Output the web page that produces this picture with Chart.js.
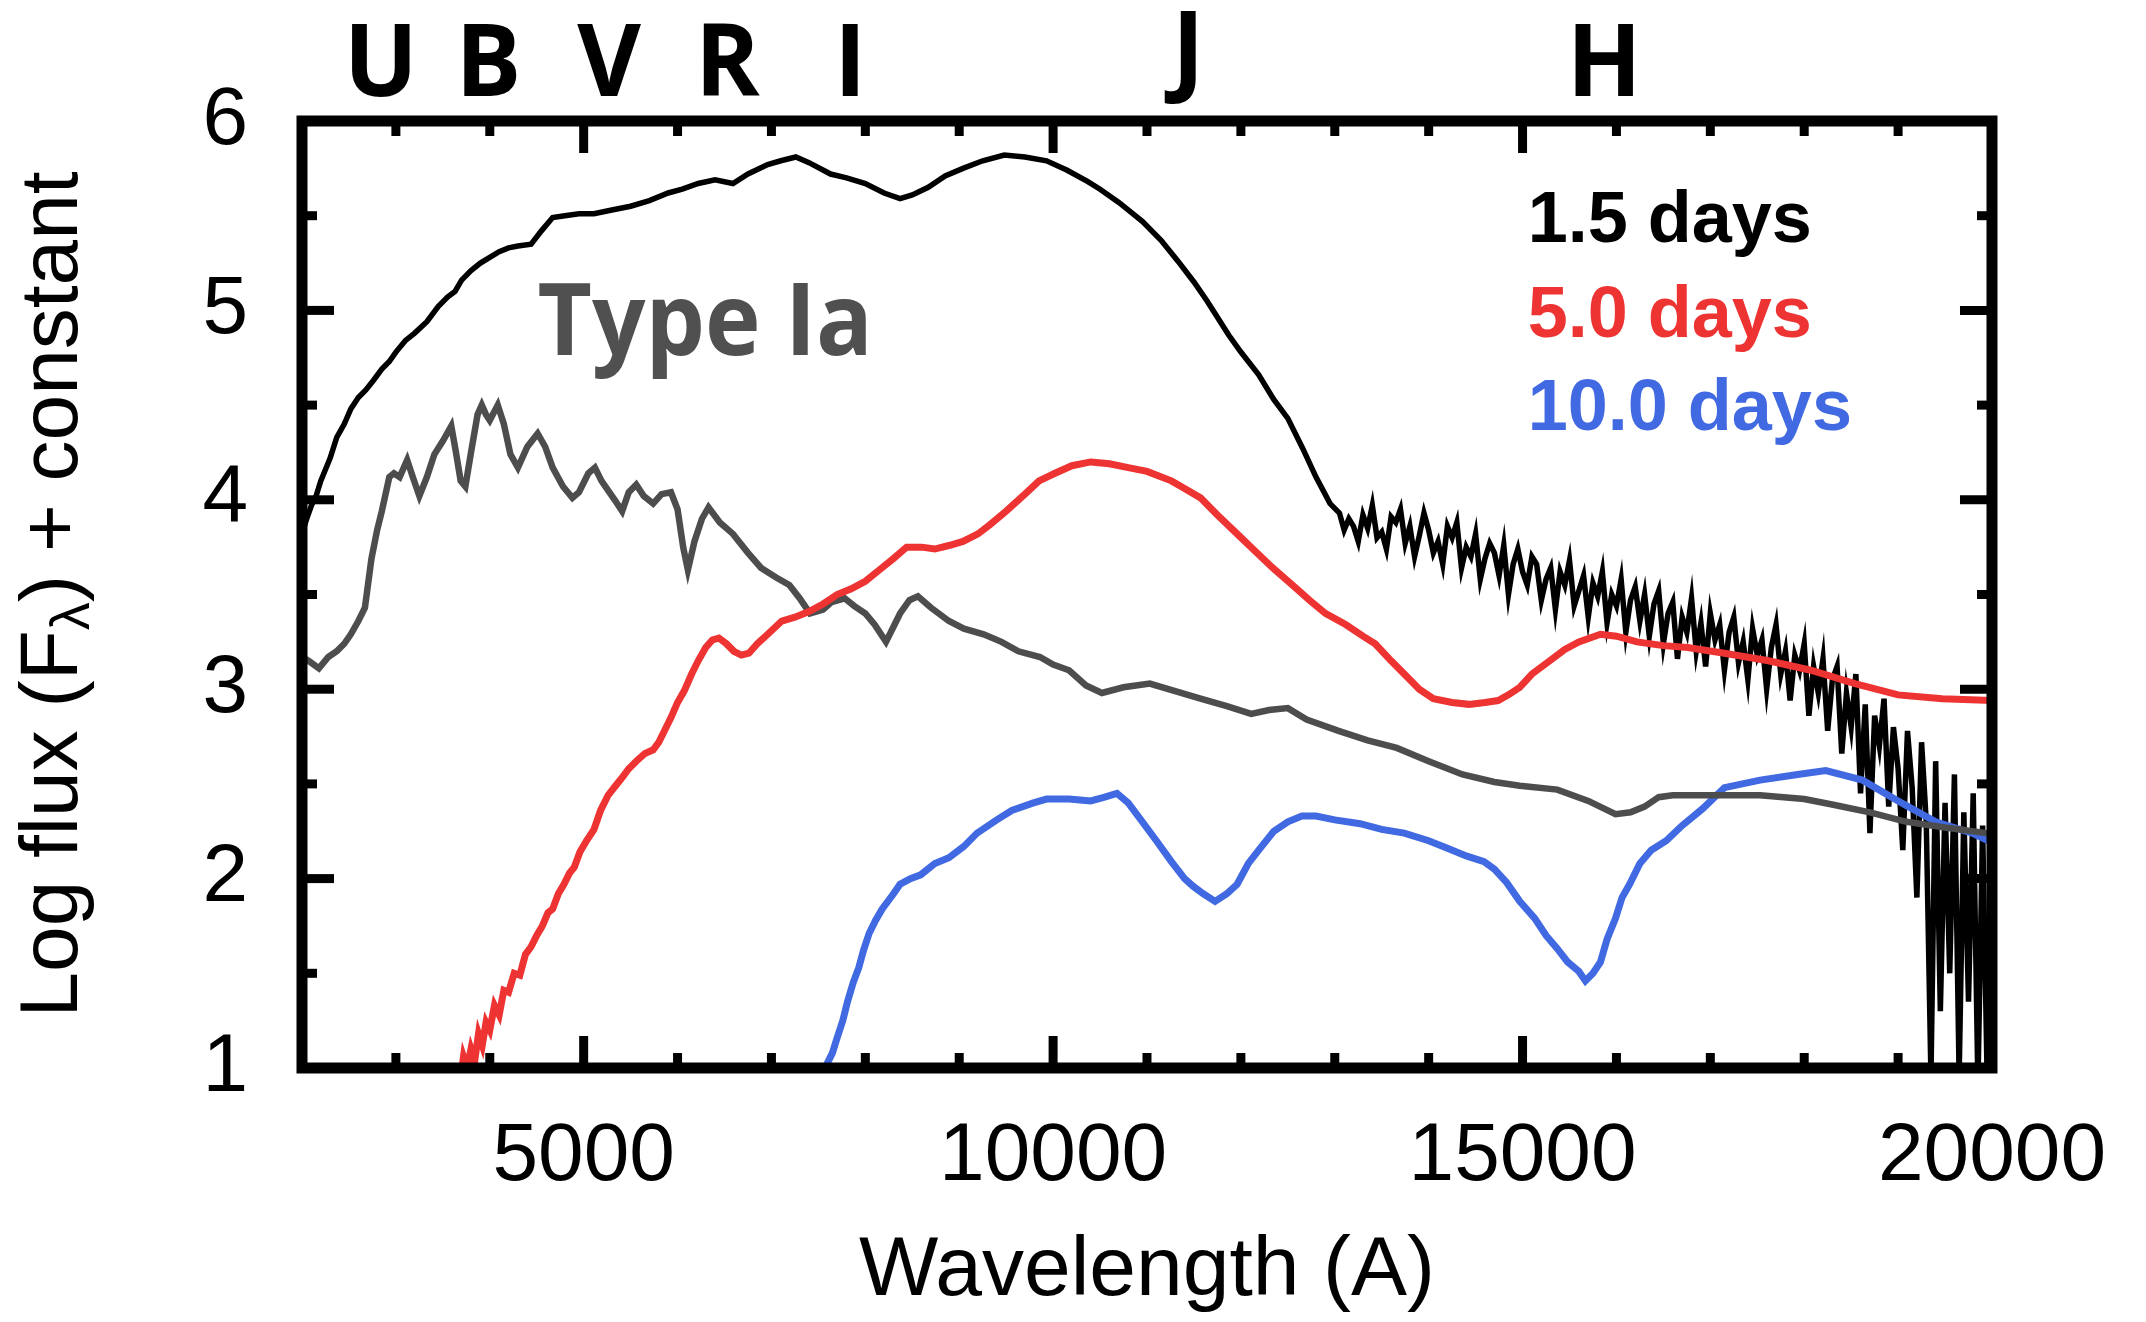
<!DOCTYPE html>
<html>
<head>
<meta charset="utf-8">
<script src="https://cdn.jsdelivr.net/npm/chart.js@4.4.1/dist/chart.umd.min.js"></script>
<style>
  html, body { margin: 0; padding: 0; background: #fff; }
  #wrap { width: 2146px; height: 1322px; }
</style>
</head>
<body>
<div id="wrap"><canvas id="spec" width="2146" height="1322"></canvas></div>
<script>
// ==================================================
// Spectra: log flux + constant vs wavelength (A)
// values, [wavelength, log flux]
// ==================================================

// 1.5 days (black)
const spec15 = [
  [2000,3.82],[2050,3.90],[2100,3.97],[2150,4.02],[2200,4.10],[2250,4.16],[2300,4.22],[2370,4.33],
  [2450,4.40],[2520,4.48],[2600,4.54],[2680,4.58],[2760,4.63],[2850,4.69],[2930,4.73],[3000,4.78],
  [3100,4.84],[3200,4.88],[3330,4.94],[3450,5.02],[3550,5.07],[3630,5.10],[3700,5.16],[3800,5.21],
  [3900,5.25],[4000,5.28],[4100,5.31],[4200,5.33],[4300,5.34],[4440,5.35],[4550,5.42],[4670,5.49],
  [4800,5.50],[4950,5.51],[5110,5.51],[5300,5.53],[5500,5.55],[5700,5.58],[5900,5.62],[6050,5.64],
  [6220,5.67],[6400,5.69],[6590,5.67],[6750,5.72],[6960,5.77],[7100,5.79],[7260,5.81],[7400,5.78],
  [7630,5.72],[7800,5.70],[8000,5.67],[8200,5.62],[8370,5.59],[8500,5.61],[8670,5.65],[8850,5.71],
  [9040,5.75],[9250,5.79],[9480,5.82],[9700,5.81],[9930,5.79],[10150,5.74],[10370,5.68],[10500,5.64],
  [10700,5.57],[10950,5.47],[11150,5.37],[11330,5.26],[11500,5.15],[11640,5.05],[11870,4.87],[12000,4.78],
  [12190,4.66],[12350,4.53],[12500,4.43],[12660,4.27],[12800,4.12],[12950,3.98],
  // noisy near-IR part
  [13050,3.93],[13100,3.84],[13150,3.90],[13200,3.86],[13250,3.78],[13300,3.92],[13350,3.85],[13400,3.97],
  [13450,3.80],[13500,3.83],[13550,3.74],[13600,3.91],[13650,3.88],[13700,3.95],[13750,3.77],[13800,3.86],
  [13850,3.70],[13900,3.81],[13950,3.93],[14000,3.84],[14050,3.72],[14100,3.78],[14150,3.66],[14200,3.86],
  [14250,3.80],[14300,3.88],[14350,3.64],[14400,3.75],[14450,3.70],[14500,3.82],[14550,3.58],[14600,3.69],
  [14650,3.77],[14700,3.72],[14750,3.60],[14800,3.76],[14850,3.50],[14900,3.66],[14950,3.74],[15000,3.62],
  [15050,3.55],[15100,3.70],[15150,3.66],[15200,3.47],[15250,3.58],[15300,3.64],[15350,3.42],[15400,3.62],
  [15450,3.55],[15500,3.68],[15550,3.44],[15600,3.52],[15650,3.60],[15700,3.38],[15750,3.56],[15800,3.49],
  [15850,3.62],[15900,3.35],[15950,3.50],[16000,3.44],[16050,3.58],[16100,3.30],[16150,3.47],[16200,3.54],
  [16250,3.36],[16300,3.50],[16350,3.28],[16400,3.45],[16450,3.52],[16500,3.24],[16550,3.40],[16600,3.46],
  [16650,3.16],[16700,3.38],[16750,3.30],[16800,3.48],[16850,3.20],[16900,3.35],[16950,3.12],[17000,3.40],
  [17050,3.26],[17100,3.34],[17150,3.10],[17200,3.30],[17250,3.38],[17300,3.14],[17350,3.25],[17400,3.05],
  [17450,3.32],[17500,3.18],[17550,3.26],[17600,3.00],[17650,3.22],[17700,3.34],[17750,3.08],[17800,3.20],
  [17850,2.94],[17900,3.18],[17950,3.10],[18000,3.24],[18050,2.86],[18100,3.12],[18150,2.98],[18200,3.16],
  [18250,2.78],[18300,3.05],[18350,3.12],[18400,2.66],[18450,2.98],[18500,2.80],[18550,3.08],[18600,2.45],
  [18650,2.92],[18700,2.24],[18750,2.86],[18800,2.70],[18850,2.95],[18900,2.38],[18950,2.80],[19000,2.58],
  [19050,2.15],[19100,2.78],[19150,2.48],[19200,1.90],[19250,2.72],[19300,2.30],[19350,0.95],[19400,2.62],
  [19450,1.30],[19500,2.40],[19550,1.50],[19600,2.55],[19650,0.95],[19700,2.35],[19750,1.35],[19800,2.45],
  [19850,0.90],[19900,2.28],[19950,0.90],[20000,2.10]
];

// 5.0 days (red)
const spec50 = [
  [3690,0.95],[3720,1.06],[3760,1.00],[3800,1.10],[3840,1.04],[3880,1.18],[3920,1.12],[3960,1.24],
  [4000,1.20],[4050,1.33],[4100,1.28],[4150,1.41],[4200,1.40],[4260,1.50],[4320,1.49],[4380,1.60],
  [4440,1.64],[4500,1.70],[4560,1.75],[4620,1.82],[4670,1.84],[4730,1.92],[4790,1.97],[4850,2.03],
  [4900,2.06],[4960,2.14],[5030,2.20],[5110,2.26],[5180,2.36],[5260,2.44],[5340,2.49],[5420,2.54],
  [5480,2.58],[5560,2.62],[5650,2.66],[5740,2.68],[5800,2.72],[5870,2.79],[5930,2.85],[6000,2.93],
  [6070,2.99],[6150,3.08],[6220,3.15],[6300,3.22],[6370,3.26],[6440,3.27],[6520,3.24],[6600,3.20],
  [6680,3.18],[6760,3.19],[6850,3.24],[6960,3.29],[7110,3.36],[7250,3.38],[7400,3.41],[7550,3.45],
  [7700,3.50],[7850,3.53],[8000,3.57],[8150,3.63],[8300,3.69],[8440,3.75],[8600,3.75],[8740,3.74],
  [8900,3.76],[9040,3.78],[9200,3.82],[9330,3.87],[9500,3.94],[9700,4.03],[9850,4.10],[10020,4.14],
  [10200,4.18],[10400,4.20],[10600,4.19],[10800,4.17],[11000,4.15],[11260,4.10],[11400,4.06],[11570,4.01],
  [11750,3.92],[11960,3.82],[12150,3.73],[12340,3.64],[12550,3.55],[12730,3.47],[12900,3.40],[13120,3.34],
  [13300,3.28],[13430,3.24],[13600,3.15],[13740,3.08],[13900,3.00],[14050,2.95],[14250,2.93],[14430,2.92],
  [14600,2.93],[14740,2.94],[14850,2.97],[14970,3.01],[15100,3.08],[15290,3.15],[15450,3.21],[15600,3.25],
  [15830,3.29],[16000,3.28],[16220,3.25],[16500,3.23],[16760,3.22],[17150,3.19],[17620,3.15],[18070,3.10],
  [18540,3.03],[19000,2.97],[19470,2.95],[20000,2.94]
];

// 10.0 days (blue)
const spec100 = [
  [7560,0.98],[7590,1.02],[7650,1.08],[7700,1.16],[7760,1.25],[7810,1.35],[7870,1.45],[7930,1.53],
  [7980,1.62],[8040,1.71],[8110,1.78],[8180,1.84],[8300,1.92],[8370,1.97],[8480,2.00],[8590,2.02],
  [8740,2.08],[8890,2.11],[9050,2.17],[9190,2.24],[9400,2.31],[9560,2.36],[9790,2.40],[9930,2.42],
  [10170,2.42],[10400,2.41],[10550,2.43],[10680,2.45],[10800,2.40],[10950,2.30],[11100,2.20],[11260,2.09],
  [11400,2.00],[11490,1.96],[11600,1.92],[11725,1.88],[11850,1.92],[11960,1.97],[12080,2.08],[12190,2.15],
  [12350,2.25],[12500,2.30],[12650,2.33],[12800,2.33],[13000,2.31],[13270,2.29],[13500,2.26],[13740,2.24],
  [14000,2.20],[14200,2.16],[14400,2.12],[14590,2.09],[14700,2.05],[14830,1.98],[14970,1.88],[15130,1.79],
  [15250,1.70],[15370,1.63],[15480,1.56],[15600,1.51],[15670,1.46],[15750,1.50],[15830,1.56],[15900,1.68],
  [15990,1.79],[16060,1.90],[16140,1.97],[16250,2.08],[16370,2.15],[16530,2.20],[16700,2.28],[16920,2.37],
  [17150,2.48],[17530,2.52],[17930,2.55],[18230,2.57],[18620,2.52],[19000,2.41],[19400,2.30],[19790,2.24],
  [20000,2.19]
];

// Type Ia template (grey)
const specIa = [
  [2000,3.17],[2070,3.15],[2180,3.11],[2280,3.17],[2370,3.20],[2450,3.24],[2520,3.29],[2600,3.36],
  [2670,3.43],[2740,3.69],[2800,3.84],[2850,3.94],[2930,4.12],[2980,4.14],[3040,4.12],[3120,4.21],
  [3180,4.12],[3250,4.02],[3330,4.12],[3410,4.24],[3500,4.31],[3590,4.39],[3640,4.25],[3690,4.10],
  [3740,4.07],[3800,4.25],[3870,4.45],[3915,4.50],[3960,4.45],[4000,4.42],[4085,4.50],[4150,4.40],
  [4220,4.24],[4300,4.17],[4400,4.28],[4510,4.35],[4590,4.28],[4670,4.17],[4780,4.07],[4880,4.01],
  [4950,4.04],[5050,4.14],[5120,4.17],[5190,4.10],[5260,4.05],[5330,4.00],[5410,3.94],[5480,4.04],
  [5560,4.08],[5640,4.02],[5740,3.98],[5830,4.03],[5930,4.04],[6000,3.95],[6060,3.75],[6110,3.63],
  [6180,3.78],[6260,3.90],[6330,3.96],[6450,3.88],[6590,3.82],[6750,3.72],[6890,3.64],[7050,3.59],
  [7190,3.55],[7300,3.48],[7410,3.40],[7550,3.42],[7640,3.46],[7780,3.48],[7880,3.44],[8000,3.40],
  [8100,3.34],[8220,3.25],[8300,3.33],[8370,3.40],[8470,3.47],[8560,3.49],[8700,3.43],[8890,3.36],
  [9050,3.32],[9260,3.29],[9450,3.25],[9630,3.20],[9860,3.17],[10000,3.13],[10170,3.10],[10350,3.02],
  [10520,2.98],[10750,3.01],[11030,3.03],[11300,2.99],[11570,2.95],[11850,2.91],[12110,2.87],[12300,2.89],
  [12500,2.90],[12700,2.84],[13040,2.78],[13350,2.73],[13660,2.69],[14000,2.62],[14360,2.55],[14700,2.51],
  [14970,2.49],[15370,2.47],[15700,2.41],[15990,2.34],[16150,2.35],[16300,2.38],[16450,2.43],[16600,2.44],
  [17000,2.44],[17530,2.44],[18000,2.42],[18310,2.39],[18700,2.35],[19090,2.30],[19500,2.27],[19940,2.24],
  [20000,2.23]
];

// labels
const seriesNames = ['1.5 days', '5.0 days', '10.0 days'];
const seriesColors = ['#000000', '#ee3333', '#4169e1'];
const seriesLabelWave = 15055;
const seriesLabelFlux = [5.36, 4.86, 4.37];
const bandNames = ['U', 'B', 'V', 'R', 'I', 'J', 'H'];
const bandWaves = [2840, 3985, 5270, 6530, 7840, 11440, 15870];
const xTickLabels = [5000, 10000, 15000, 20000];
const yTickLabels = [1, 2, 3, 4, 5, 6];
const typeLabel = 'Type Ia';
const typeLabelPos = [4509, 4.765];

const SANS = "'Liberation Sans', Arial, Helvetica, sans-serif";
const toXY = arr => arr.map(p => ({ x: p[0], y: p[1] }));

Chart.defaults.font.family = SANS;
Chart.defaults.color = '#000';

// frame, inward ticks and all annotation text
const framePlugin = {
  id: 'frame',
  afterDraw(chart) {
    const { ctx, chartArea: a, scales: { x, y } } = chart;
    ctx.save();
    ctx.strokeStyle = '#000';
    ctx.lineCap = 'butt';

    const seg = (x1, y1, x2, y2) => {
      ctx.beginPath();
      ctx.moveTo(x1, y1);
      ctx.lineTo(x2, y2);
      ctx.stroke();
    };

    // x ticks, top and bottom
    ctx.lineWidth = 9;
    for (let w = 2000; w <= 20000; w += 1000) {
      const px = x.getPixelForValue(w);
      const len = w % 5000 === 0 ? 32 : 15;
      seg(px, a.bottom, px, a.bottom - len);
      seg(px, a.top, px, a.top + len);
    }
    // y ticks, left and right
    for (let v = 1; v <= 6; v += 0.5) {
      const py = y.getPixelForValue(v);
      const len = Number.isInteger(v) ? 32 : 15;
      seg(a.left, py, a.left + len, py);
      seg(a.right, py, a.right - len, py);
    }
    // frame
    ctx.lineWidth = 11;
    ctx.lineJoin = 'miter';
    ctx.strokeRect(a.left, a.top, a.right - a.left, a.bottom - a.top);

    // y title with subscript lambda
    ctx.save();
    ctx.translate(54, (a.top + a.bottom) / 2);
    ctx.rotate(-Math.PI / 2);
    ctx.fillStyle = '#000';
    ctx.textBaseline = 'middle';
    ctx.textAlign = 'left';
    const big = '82px ' + SANS;
    const small = '56px ' + SANS;
    const parts = [['Log flux (F', big, 0], ['\u03bb', small, 20], [') + constant', big, 0]];
    let total = 0;
    parts.forEach(p => { ctx.font = p[1]; total += ctx.measureText(p[0]).width; });
    let cx = -total / 2;
    parts.forEach(p => {
      ctx.font = p[1];
      ctx.fillText(p[0], cx, p[2]);
      cx += ctx.measureText(p[0]).width;
    });
    ctx.restore();

    // photometric band letters above the frame
    ctx.fillStyle = '#000';
    ctx.textAlign = 'center';
    ctx.textBaseline = 'alphabetic';
    ctx.font = "bold 100px 'Open Sans', sans-serif";
    bandNames.forEach((n, i) => {
      ctx.save();
      ctx.translate(x.getPixelForValue(bandWaves[i]), a.top - (n === 'J' ? 38 : 25));
      ctx.scale(0.98, 1);
      ctx.fillText(n, 0, 0);
      ctx.restore();
    });

    // Type Ia label
    ctx.save();
    ctx.fillStyle = '#505050';
    ctx.textAlign = 'left';
    ctx.font = "bold 100px 'Open Sans', sans-serif";
    ctx.translate(x.getPixelForValue(typeLabelPos[0]), y.getPixelForValue(typeLabelPos[1]));
    ctx.scale(0.94, 1);
    ctx.fillText(typeLabel, 0, 0);
    ctx.restore();

    // epoch labels
    ctx.textAlign = 'left';
    ctx.font = 'bold 72px ' + SANS;
    seriesNames.forEach((n, i) => {
      ctx.fillStyle = seriesColors[i];
      ctx.fillText(n, x.getPixelForValue(seriesLabelWave), y.getPixelForValue(seriesLabelFlux[i]));
    });

    ctx.restore();
  }
};

new Chart(document.getElementById('spec'), {
  type: 'line',
  data: {
    datasets: [
      { label: seriesNames[1], data: toXY(spec50), borderColor: seriesColors[1], borderWidth: 7, order: 1 },
      { label: typeLabel, data: toXY(specIa), borderColor: '#4d4d4d', borderWidth: 6.5, order: 2 },
      { label: seriesNames[2], data: toXY(spec100), borderColor: seriesColors[2], borderWidth: 7, order: 3 },
      { label: seriesNames[0], data: toXY(spec15), borderColor: seriesColors[0], borderWidth: 5.5, order: 4 }
    ]
  },
  options: {
    responsive: false,
    animation: false,
    elements: {
      point: { radius: 0 },
      line: { tension: 0, fill: false, borderJoinStyle: 'miter' }
    },
    layout: { padding: { top: 121, right: 144, left: 0, bottom: 0 } },
    plugins: {
      legend: { display: false },
      tooltip: { enabled: false }
    },
    scales: {
      x: {
        type: 'linear',
        min: 2000,
        max: 20000,
        afterFit: s => { s.height = 254; },
        grid: { display: false, drawTicks: false },
        border: { display: false },
        ticks: {
          stepSize: 1000,
          autoSkip: false,
          maxRotation: 0,
          padding: 40,
          color: '#000',
          font: { size: 82 },
          callback: v => xTickLabels.includes(v) ? String(v) : ''
        },
        title: {
          display: true,
          text: 'Wavelength (A)',
          color: '#000',
          font: { size: 84 },
          padding: { top: 0, bottom: 0 }
        }
      },
      y: {
        type: 'linear',
        min: 1,
        max: 6,
        afterFit: s => { s.width = 302; },
        grid: { display: false, drawTicks: false },
        border: { display: false },
        ticks: {
          stepSize: 1,
          padding: 54,
          color: '#000',
          font: { size: 82 },
          callback: v => yTickLabels.includes(v) ? String(v) : ''
        }
      }
    }
  },
  plugins: [framePlugin]
});
</script>
</body>
</html>
